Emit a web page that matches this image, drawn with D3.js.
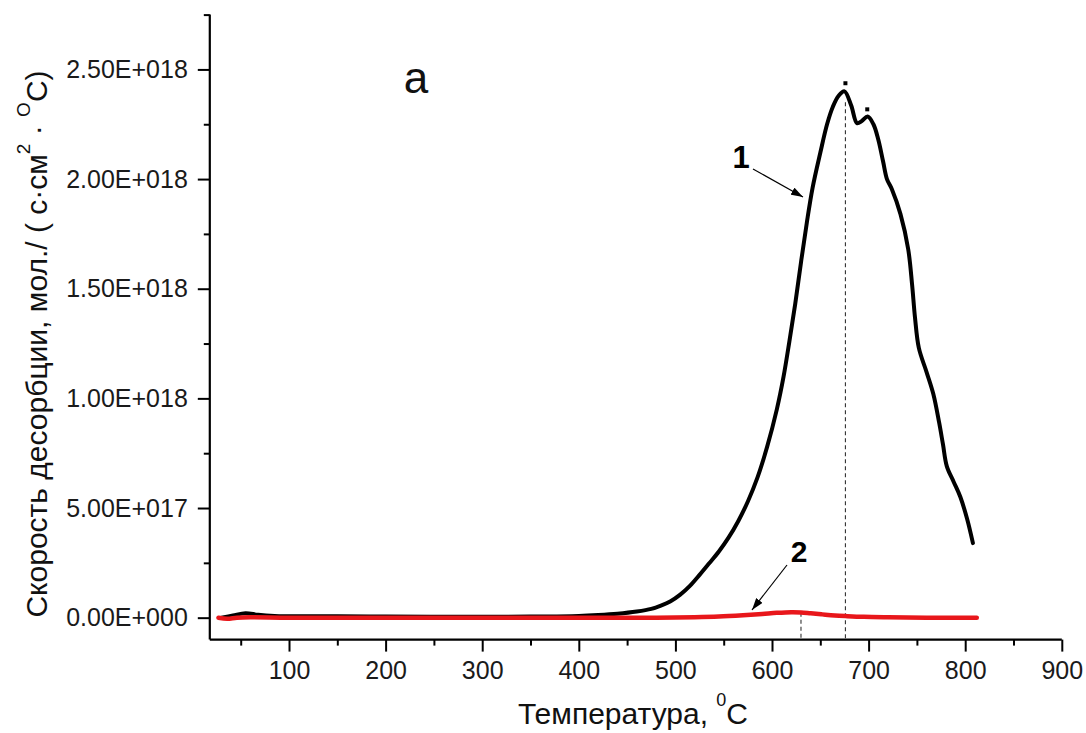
<!DOCTYPE html>
<html>
<head>
<meta charset="utf-8">
<script src="https://cdn.jsdelivr.net/npm/d3@7/dist/d3.min.js"></script>
<style>
  html, body { margin: 0; padding: 0; background: #fff; }
  svg { display: block; font-family: "Liberation Sans", Arial, sans-serif; }
</style>
</head>
<body>
<svg id="chart" width="1086" height="733"></svg>
<script>
// Temperature-programmed desorption rate, values in units of 1e18 mol/(s·cm²·°C)

// Curve 1 (black): temperature, °C
const temp1 = [30, 42, 55, 68, 85, 110, 150, 200, 250, 300, 350, 400, 420, 440, 460, 475,
  485, 495, 505, 515, 525, 535, 545, 555, 565, 575, 585, 595, 605, 612, 618, 624, 630,
  636, 642, 650, 657, 663, 669, 675, 682, 688, 693, 699, 705, 710, 715, 719, 724, 733,
  741, 745, 748, 752, 760, 767, 773, 777, 781, 788, 795, 802, 808];
const rate1 = [0.000, 0.010, 0.020, 0.013, 0.008, 0.006, 0.007, 0.005, 0.004, 0.004, 0.005, 0.008, 0.012, 0.018, 0.028, 0.040,
  0.055, 0.075, 0.105, 0.145, 0.195, 0.248, 0.302, 0.365, 0.440, 0.530, 0.640, 0.780, 0.950, 1.100, 1.260, 1.430, 1.620,
  1.800, 1.960, 2.120, 2.250, 2.330, 2.380, 2.400, 2.335, 2.255, 2.265, 2.285, 2.250, 2.180, 2.080, 2.000, 1.955, 1.840,
  1.680, 1.520, 1.370, 1.230, 1.120, 1.020, 0.890, 0.790, 0.690, 0.620, 0.550, 0.450, 0.340];

// Curve 2 (red)
const temp2 = [27, 36, 46, 60, 100, 200, 300, 400, 480, 520, 545, 570, 590, 605, 620, 630,
  640, 652, 665, 678, 695, 720, 760, 812];
const rate2 = [0.000, -0.005, 0.000, 0.002, 0.000, 0.000, 0.000, 0.000, 0.000, 0.002, 0.005, 0.011, 0.017, 0.022, 0.025, 0.024,
  0.020, 0.015, 0.010, 0.007, 0.004, 0.002, 0.000, 0.000];

// Vertical drop lines at the peak maxima
const dropX = [676, 630];
const dropTop = [2.35, 0.023];

// Small markers above the two maxima of curve 1
const markX = [676, 698.6];
const markY = [2.437, 2.318];

// Axis ticks
const xMajor = [100, 200, 300, 400, 500, 600, 700, 800, 900];
const xMinor = [50, 150, 250, 350, 450, 550, 650, 750, 850];
const yMajor = [0, 0.5, 1.0, 1.5, 2.0, 2.5];
const yMinor = [0.25, 0.75, 1.25, 1.75, 2.25, 2.75];

const xDomain = [18, 900];
const yDomain = [-0.1, 2.75];

const svg = d3.select("#chart");

const x = d3.scaleLinear().domain(xDomain).range([209.8, 1061.8]);
const y = d3.scaleLinear().domain(yDomain).range([639.6, 14.6]);

// Scientific notation in the "2.50E+018" style
function sci(v) {
  const val = v * 1e18;
  if (val === 0) return "0.00E+000";
  const e = Math.floor(Math.log10(Math.abs(val)) + 1e-9);
  const m = val / Math.pow(10, e);
  return m.toFixed(2) + "E+" + String(e).padStart(3, "0");
}

// ---- axes ----
const xAxisMajor = d3.axisBottom(x).tickValues(xMajor).tickSize(12).tickPadding(10).tickFormat(d3.format("d"));
const xAxisMinor = d3.axisBottom(x).tickValues(xMinor).tickSize(6).tickFormat("");
const yAxisMajor = d3.axisLeft(y).tickValues(yMajor).tickSize(12).tickPadding(10).tickFormat(sci);
const yAxisMinor = d3.axisLeft(y).tickValues(yMinor).tickSize(6).tickFormat("");

function styleAxis(g) {
  g.select(".domain").remove();
  g.selectAll(".tick line").attr("stroke", "#000").attr("stroke-width", 2);
  g.selectAll(".tick text").attr("fill", "#1a1a1a")
    .attr("font-family", "Liberation Sans, Arial, sans-serif")
    .style("font-size", "25px");
}

svg.append("g").attr("transform", `translate(0,${y.range()[0]})`).call(xAxisMajor).call(styleAxis);
svg.append("g").attr("transform", `translate(0,${y.range()[0]})`).call(xAxisMinor).call(styleAxis);
svg.append("g").attr("transform", `translate(${x.range()[0]},0)`).call(yAxisMajor).call(styleAxis);
svg.append("g").attr("transform", `translate(${x.range()[0]},0)`).call(yAxisMinor).call(styleAxis);

// axis lines
svg.append("line")
  .attr("x1", x.range()[0]).attr("x2", x.range()[1])
  .attr("y1", y.range()[0]).attr("y2", y.range()[0])
  .attr("stroke", "#000").attr("stroke-width", 2.2);
svg.append("line")
  .attr("x1", x.range()[0]).attr("x2", x.range()[0])
  .attr("y1", y.range()[0]).attr("y2", y.range()[1])
  .attr("stroke", "#000").attr("stroke-width", 2.2);

// ---- drop lines ----
svg.selectAll(".drop").data(dropX).enter().append("line")
  .attr("class", "drop")
  .attr("x1", d => x(d)).attr("x2", d => x(d))
  .attr("y1", (d, i) => y(dropTop[i])).attr("y2", y(yDomain[0]))
  .attr("stroke", "#333").attr("stroke-width", 1.1)
  .attr("stroke-dasharray", "4,3");

// ---- curves ----
const line = d3.line()
  .x(d => x(d[0])).y(d => y(d[1]))
  .curve(d3.curveCatmullRom.alpha(0.5));

const data1 = temp1.map((t, i) => [t, rate1[i]]);
const data2 = temp2.map((t, i) => [t, rate2[i]]);

svg.append("path").datum(data1)
  .attr("d", line).attr("fill", "none")
  .attr("stroke", "#000").attr("stroke-width", 4)
  .attr("stroke-linejoin", "round").attr("stroke-linecap", "round");

svg.append("path").datum(data2)
  .attr("d", line).attr("fill", "none")
  .attr("stroke", "#e8171b").attr("stroke-width", 4.5)
  .attr("stroke-linejoin", "round").attr("stroke-linecap", "round");

// peak markers
svg.selectAll(".mark").data(markX).enter().append("rect")
  .attr("x", d => x(d) - 2).attr("y", (d, i) => y(markY[i]) - 2)
  .attr("width", 4).attr("height", 4).attr("fill", "#000");

// ---- annotations ----
svg.append("defs").append("marker")
  .attr("id", "arrow").attr("viewBox", "0 0 12 8")
  .attr("refX", 12).attr("refY", 4)
  .attr("markerWidth", 12).attr("markerHeight", 8)
  .attr("markerUnits", "userSpaceOnUse")
  .attr("orient", "auto")
  .append("path").attr("d", "M0,0 L12,4 L0,8 Z").attr("fill", "#000");

// arrow for curve 1: from label toward the rising flank
svg.append("line")
  .attr("x1", 753).attr("y1", 169).attr("x2", 803).attr("y2", 197)
  .attr("stroke", "#000").attr("stroke-width", 1.2)
  .attr("marker-end", "url(#arrow)");
// arrow for curve 2
svg.append("line")
  .attr("x1", 787).attr("y1", 565).attr("x2", 752).attr("y2", 610)
  .attr("stroke", "#000").attr("stroke-width", 1.2)
  .attr("marker-end", "url(#arrow)");

svg.append("text").attr("x", 741).attr("y", 168)
  .attr("text-anchor", "middle").attr("font-weight", "bold")
  .style("font-size", "31px").text("1");
svg.append("text").attr("x", 799).attr("y", 562)
  .attr("text-anchor", "middle").attr("font-weight", "bold")
  .style("font-size", "30px").text("2");

// panel letter
svg.append("text").attr("x", 416).attr("y", 93)
  .attr("text-anchor", "middle").style("font-size", "44px").attr("fill", "#111").text("a");

// ---- axis titles ----
const xt = svg.append("text").attr("x", 633).attr("y", 724)
  .attr("text-anchor", "middle").style("font-size", "30px").attr("fill", "#111");
xt.append("tspan").text("Температура, ");
xt.append("tspan").attr("dy", -18).style("font-size", "18px").text("0");
xt.append("tspan").attr("dy", 18).text("C");

const yt = svg.append("text")
  .attr("transform", "translate(47,344) rotate(-90)")
  .attr("text-anchor", "middle").style("font-size", "30px").attr("fill", "#111");
yt.append("tspan").text("Скорость десорбции, мол./ ( с·см");
yt.append("tspan").attr("dy", -17).style("font-size", "19px").text("2");
yt.append("tspan").attr("dy", 17).text(" · ");
yt.append("tspan").attr("dy", -17).style("font-size", "19px").text("O");
yt.append("tspan").attr("dy", 17).text("С)");
</script>
</body>
</html>
